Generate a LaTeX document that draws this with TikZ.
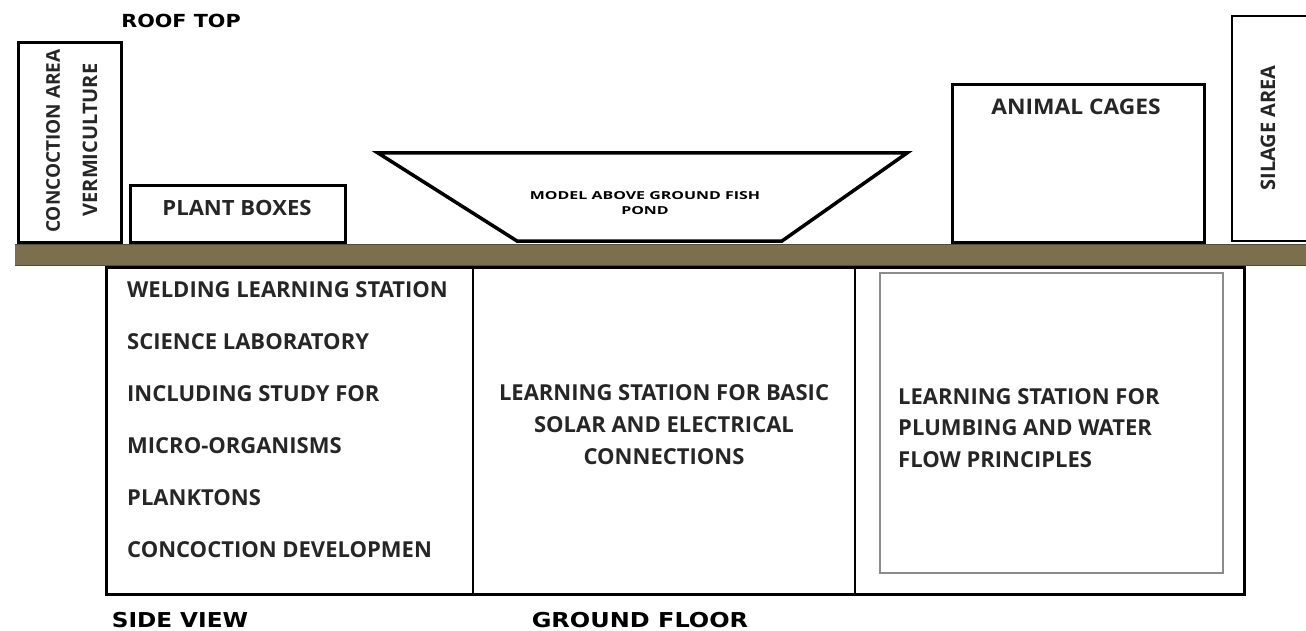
\documentclass[tikz,border=0pt]{standalone}
\usepackage{fontspec}
\setmainfont{Open Sans}
\newfontfamily\headfont{DejaVu Sans}
\definecolor{floorc}{RGB}{124,111,77}
\definecolor{flooredge}{RGB}{85,76,50}
\definecolor{innerc}{RGB}{140,140,140}
\begin{document}
\begin{tikzpicture}[x=1pt,y=-1pt,
  box/.style={draw=black,line width=2.8pt,inner sep=0pt,anchor=north west},
  lbl/.style={inner sep=0pt,font=\fontsize{19}{22}\selectfont\bfseries,text=black!85},
  head/.style={inner sep=0pt,font=\headfont\fontsize{18}{22}\selectfont\bfseries},
  item/.style={lbl,anchor=west,font=\fontsize{22}{24}\selectfont\bfseries}]
\useasboundingbox (0,0) rectangle (1306,631);
% floor bar
\fill[floorc] (15,244) rectangle (1310,266);
\draw[flooredge,line width=1.5pt] (15,244.5) -- (1310,244.5);
\draw[flooredge,line width=1.5pt] (15,265.5) -- (1310,265.5);
% roof top
\node[head] (roof) at (181,21) {\scalebox{1.15}[1]{ROOF TOP}};
% concoction box
\node[box,minimum width=103pt,minimum height=200pt] (conc) at (17,41) {};
\node[lbl,rotate=90,font=\fontsize{19}{22}\selectfont\bfseries] (conct) at (53,141) {CONCOCTION AREA};
\node[lbl,rotate=90,font=\fontsize{20}{22}\selectfont\bfseries] (verm) at (90,140) {VERMICULTURE};
% plant boxes
\node[box,minimum width=215pt,minimum height=57pt] (plant) at (129,184) {};
\node[lbl,font=\fontsize{21}{24}\selectfont\bfseries] (plantt) at (237,208) {\scalebox{1.05}[1]{PLANT BOXES}};
% fish pond
\coordinate (p1) at (378,153);
\coordinate (p2) at (907,153);
\coordinate (p3) at (782,241);
\coordinate (p4) at (517,241);
\draw[line width=3.5pt,line join=miter] (p1) -- (p2) -- (p3) -- (p4) -- cycle;
\node[inner sep=0pt,font=\fontsize{11}{12}\selectfont\bfseries] (fish1) at (645,196) {\scalebox{1.45}[1]{MODEL ABOVE GROUND FISH}};
\node[inner sep=0pt,font=\fontsize{11}{12}\selectfont\bfseries] (fish2) at (645,211) {\scalebox{1.45}[1]{POND}};
% animal cages
\node[box,minimum width=252pt,minimum height=158pt] (cages) at (951,83) {};
\node[lbl,font=\fontsize{21.5}{24}\selectfont\bfseries] (cagest) at (1076,107) {\scalebox{1.06}[1]{ANIMAL CAGES}};
% silage
\draw[line width=2.8pt] (1312,16) -- (1232,16) -- (1232,241) -- (1312,241);
\node[lbl,rotate=90,font=\fontsize{20}{22}\selectfont\bfseries] (silage) at (1268,128) {SILAGE AREA};
% ground floor
\node[box,minimum width=1138pt,minimum height=327pt] (ground) at (105,266) {};
\draw[line width=2.5pt] (473,266) -- (473,593);
\draw[line width=2.5pt] (855,266) -- (855,593);
\node[draw=innerc,line width=2pt,inner sep=0pt,anchor=north west,minimum width=343pt,minimum height=300pt] (inner) at (879,272) {};
% left list
\node[item] (w1) at (127,290) {WELDING LEARNING STATION};
\node[item] (w2) at (127,342) {SCIENCE LABORATORY};
\node[item] (w3) at (127,394) {INCLUDING STUDY FOR};
\node[item] (w4) at (127,446) {MICRO-ORGANISMS};
\node[item] (w5) at (127,498) {PLANKTONS};
\node[item] (w6) at (127,550) {CONCOCTION DEVELOPMEN};
% middle
\node[lbl,align=center,font=\fontsize{22}{32}\selectfont\bfseries] (solar) at (664,425) {LEARNING STATION FOR BASIC\\SOLAR AND ELECTRICAL\\CONNECTIONS};
% right
\node[lbl,align=left,anchor=west,font=\fontsize{22}{31.5}\selectfont\bfseries] (plumb) at (898,428) {LEARNING STATION FOR\\PLUMBING AND WATER\\FLOW PRINCIPLES};
% bottom labels
\node[head,font=\headfont\fontsize{20.5}{22}\selectfont\bfseries] (side) at (180,620) {\scalebox{1.13}[1]{SIDE VIEW}};
\node[head,font=\headfont\fontsize{20.5}{22}\selectfont\bfseries] (gf) at (640,620) {\scalebox{1.17}[1]{GROUND FLOOR}};
\end{tikzpicture}
\end{document}
